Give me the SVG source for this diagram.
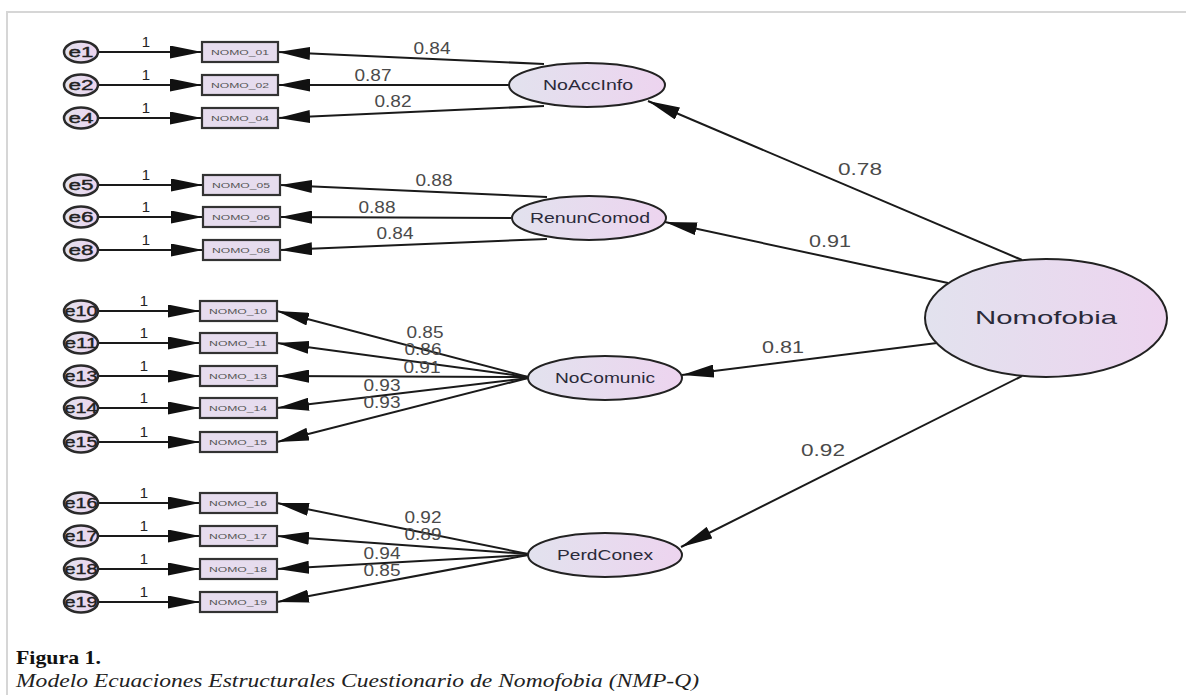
<svg xmlns="http://www.w3.org/2000/svg" width="1186" height="695" viewBox="0 0 1186 695">
<defs>
<linearGradient id="lg" x1="0" y1="0" x2="1" y2="0">
<stop offset="0" stop-color="#e2e2ee"/>
<stop offset="1" stop-color="#edd4ef"/>
</linearGradient>
<marker id="ah" viewBox="0 0 32 13" refX="32" refY="6.5" markerUnits="userSpaceOnUse" markerWidth="32" markerHeight="13" orient="auto">
<path d="M0,0 L32,6.5 L0,13 z" fill="#111"/>
</marker>
<style>
.frame{stroke:#d6d6d6;stroke-width:2;fill:none}
.err{fill:url(#lg);stroke:#2a2a2a;stroke-width:2.5}
.box{fill:#e6dcee;stroke:#333;stroke-width:2.2}
.lat{fill:url(#lg);stroke:#222;stroke-width:2}
.c line{stroke:#1a1a1a;stroke-width:2;marker-end:url(#ah)}
.et{font-family:"Liberation Sans",Arial,sans-serif;font-size:15px;fill:#222;stroke:#222;stroke-width:0.4;text-anchor:middle}
.bt{font-family:"Liberation Sans",Arial,sans-serif;font-size:8px;fill:#555;text-anchor:middle}
.one{font-family:"Liberation Sans",Arial,sans-serif;font-size:15px;fill:#222;text-anchor:middle}
.num{font-family:"Liberation Sans",Arial,sans-serif;font-size:16px;fill:#4a4a4a;text-anchor:middle}
.lt{font-family:"Liberation Sans",Arial,sans-serif;font-size:15px;fill:#2a2a3a;text-anchor:middle}
.cap1{font-family:"Liberation Serif","Times New Roman",serif;font-size:19px;font-weight:bold;fill:#111}
.cap2{font-family:"Liberation Serif","Times New Roman",serif;font-size:19px;font-style:italic;fill:#222}
</style>
</defs>
<rect width="1186" height="695" fill="#fff"/>
<path class="frame" d="M7,695 L7,12 L1186,12"/>

<g id="connectors" class="c">
<line x1="98" y1="52" x2="202" y2="52"/>
<line x1="98" y1="85" x2="202" y2="85"/>
<line x1="98" y1="118" x2="202" y2="118"/>
<line x1="98" y1="185" x2="203" y2="185"/>
<line x1="98" y1="217" x2="203" y2="217"/>
<line x1="98" y1="250" x2="203" y2="250"/>
<line x1="98" y1="311" x2="200" y2="311"/>
<line x1="98" y1="343" x2="200" y2="343"/>
<line x1="98" y1="376" x2="200" y2="376"/>
<line x1="98" y1="408" x2="200" y2="408"/>
<line x1="98" y1="442" x2="200" y2="442"/>
<line x1="98" y1="503" x2="200" y2="503"/>
<line x1="98" y1="536" x2="200" y2="536"/>
<line x1="98" y1="569" x2="200" y2="569"/>
<line x1="98" y1="602" x2="200" y2="602"/>
<line x1="544" y1="64" x2="278" y2="52"/>
<line x1="509" y1="85" x2="278" y2="85"/>
<line x1="544" y1="106" x2="278" y2="118"/>
<line x1="547" y1="197" x2="280" y2="185"/>
<line x1="511" y1="218" x2="280" y2="217"/>
<line x1="547" y1="239" x2="280" y2="250"/>
<line x1="528" y1="377" x2="277" y2="311"/>
<line x1="528" y1="377" x2="277" y2="343"/>
<line x1="528" y1="377" x2="277" y2="376"/>
<line x1="528" y1="378" x2="277" y2="408"/>
<line x1="528" y1="378" x2="277" y2="442"/>
<line x1="528" y1="554" x2="277" y2="503"/>
<line x1="528" y1="554" x2="277" y2="536"/>
<line x1="528" y1="555" x2="277" y2="569"/>
<line x1="528" y1="555" x2="277" y2="602"/>
<line x1="1022" y1="260" x2="648" y2="101"/>
<line x1="948" y1="283" x2="665" y2="222"/>
<line x1="937" y1="343" x2="682" y2="375"/>
<line x1="1022" y1="376" x2="681" y2="547"/>
</g>

<g id="labels">
<text class="one" x="146" y="47">1</text>
<text class="one" x="146" y="80">1</text>
<text class="one" x="146" y="113">1</text>
<text class="one" x="146" y="180">1</text>
<text class="one" x="146" y="212">1</text>
<text class="one" x="146" y="245">1</text>
<text class="one" x="144" y="306">1</text>
<text class="one" x="144" y="338">1</text>
<text class="one" x="144" y="371">1</text>
<text class="one" x="144" y="403">1</text>
<text class="one" x="144" y="437">1</text>
<text class="one" x="144" y="498">1</text>
<text class="one" x="144" y="531">1</text>
<text class="one" x="144" y="564">1</text>
<text class="one" x="144" y="597">1</text>
<text class="num" x="432" y="54" textLength="37" lengthAdjust="spacingAndGlyphs">0.84</text>
<text class="num" x="373" y="81" textLength="37" lengthAdjust="spacingAndGlyphs">0.87</text>
<text class="num" x="393" y="107" textLength="37" lengthAdjust="spacingAndGlyphs">0.82</text>
<text class="num" x="434" y="186" textLength="37" lengthAdjust="spacingAndGlyphs">0.88</text>
<text class="num" x="377" y="213" textLength="37" lengthAdjust="spacingAndGlyphs">0.88</text>
<text class="num" x="395" y="239" textLength="37" lengthAdjust="spacingAndGlyphs">0.84</text>
<text class="num" x="425" y="338" textLength="37" lengthAdjust="spacingAndGlyphs">0.85</text>
<text class="num" x="423" y="355" textLength="37" lengthAdjust="spacingAndGlyphs">0.86</text>
<text class="num" x="422" y="373" textLength="37" lengthAdjust="spacingAndGlyphs">0.91</text>
<text class="num" x="382" y="391" textLength="37" lengthAdjust="spacingAndGlyphs">0.93</text>
<text class="num" x="382" y="408" textLength="37" lengthAdjust="spacingAndGlyphs">0.93</text>
<text class="num" x="423" y="523" textLength="37" lengthAdjust="spacingAndGlyphs">0.92</text>
<text class="num" x="423" y="540" textLength="37" lengthAdjust="spacingAndGlyphs">0.89</text>
<text class="num" x="382" y="559" textLength="37" lengthAdjust="spacingAndGlyphs">0.94</text>
<text class="num" x="382" y="576" textLength="37" lengthAdjust="spacingAndGlyphs">0.85</text>
<text class="num" x="860" y="175" textLength="44" lengthAdjust="spacingAndGlyphs">0.78</text>
<text class="num" x="830" y="247" textLength="42" lengthAdjust="spacingAndGlyphs">0.91</text>
<text class="num" x="783" y="353" textLength="42" lengthAdjust="spacingAndGlyphs">0.81</text>
<text class="num" x="823" y="456" textLength="44" lengthAdjust="spacingAndGlyphs">0.92</text>
</g>

<g id="e1"><ellipse class="err" cx="81" cy="52" rx="17" ry="10.5"/><text class="et" x="81" y="57" textLength="25" lengthAdjust="spacingAndGlyphs">e1</text></g>
<g id="e2"><ellipse class="err" cx="81" cy="85" rx="17" ry="10.5"/><text class="et" x="81" y="90" textLength="25" lengthAdjust="spacingAndGlyphs">e2</text></g>
<g id="e4"><ellipse class="err" cx="81" cy="118" rx="17" ry="10.5"/><text class="et" x="81" y="123" textLength="25" lengthAdjust="spacingAndGlyphs">e4</text></g>
<g id="e5"><ellipse class="err" cx="81" cy="185" rx="17" ry="10.5"/><text class="et" x="81" y="190" textLength="25" lengthAdjust="spacingAndGlyphs">e5</text></g>
<g id="e6"><ellipse class="err" cx="81" cy="217" rx="17" ry="10.5"/><text class="et" x="81" y="222" textLength="25" lengthAdjust="spacingAndGlyphs">e6</text></g>
<g id="e8"><ellipse class="err" cx="81" cy="250" rx="17" ry="10.5"/><text class="et" x="81" y="255" textLength="25" lengthAdjust="spacingAndGlyphs">e8</text></g>
<g id="e10"><ellipse class="err" cx="81" cy="311" rx="17" ry="10.5"/><text class="et" x="81" y="316" textLength="33" lengthAdjust="spacingAndGlyphs">e10</text></g>
<g id="e11"><ellipse class="err" cx="81" cy="343" rx="17" ry="10.5"/><text class="et" x="81" y="348" textLength="33" lengthAdjust="spacingAndGlyphs">e11</text></g>
<g id="e13"><ellipse class="err" cx="81" cy="376" rx="17" ry="10.5"/><text class="et" x="81" y="381" textLength="33" lengthAdjust="spacingAndGlyphs">e13</text></g>
<g id="e14"><ellipse class="err" cx="81" cy="408" rx="17" ry="10.5"/><text class="et" x="81" y="413" textLength="33" lengthAdjust="spacingAndGlyphs">e14</text></g>
<g id="e15"><ellipse class="err" cx="81" cy="442" rx="17" ry="10.5"/><text class="et" x="81" y="447" textLength="33" lengthAdjust="spacingAndGlyphs">e15</text></g>
<g id="e16"><ellipse class="err" cx="81" cy="503" rx="17" ry="10.5"/><text class="et" x="81" y="508" textLength="33" lengthAdjust="spacingAndGlyphs">e16</text></g>
<g id="e17"><ellipse class="err" cx="81" cy="536" rx="17" ry="10.5"/><text class="et" x="81" y="541" textLength="33" lengthAdjust="spacingAndGlyphs">e17</text></g>
<g id="e18"><ellipse class="err" cx="81" cy="569" rx="17" ry="10.5"/><text class="et" x="81" y="574" textLength="33" lengthAdjust="spacingAndGlyphs">e18</text></g>
<g id="e19"><ellipse class="err" cx="81" cy="602" rx="17" ry="10.5"/><text class="et" x="81" y="607" textLength="33" lengthAdjust="spacingAndGlyphs">e19</text></g>

<g id="NOMO_01"><rect class="box" x="202" y="42" width="76" height="20"/><text class="bt" x="240" y="55" textLength="58" lengthAdjust="spacingAndGlyphs">NOMO_01</text></g>
<g id="NOMO_02"><rect class="box" x="202" y="75" width="76" height="20"/><text class="bt" x="240" y="88" textLength="58" lengthAdjust="spacingAndGlyphs">NOMO_02</text></g>
<g id="NOMO_04"><rect class="box" x="202" y="108" width="76" height="20"/><text class="bt" x="240" y="121" textLength="58" lengthAdjust="spacingAndGlyphs">NOMO_04</text></g>
<g id="NOMO_05"><rect class="box" x="203" y="175" width="77" height="20"/><text class="bt" x="241" y="188" textLength="58" lengthAdjust="spacingAndGlyphs">NOMO_05</text></g>
<g id="NOMO_06"><rect class="box" x="203" y="207" width="77" height="20"/><text class="bt" x="241" y="220" textLength="58" lengthAdjust="spacingAndGlyphs">NOMO_06</text></g>
<g id="NOMO_08"><rect class="box" x="203" y="240" width="77" height="20"/><text class="bt" x="241" y="253" textLength="58" lengthAdjust="spacingAndGlyphs">NOMO_08</text></g>
<g id="NOMO_10"><rect class="box" x="200" y="301" width="77" height="20"/><text class="bt" x="238" y="314" textLength="58" lengthAdjust="spacingAndGlyphs">NOMO_10</text></g>
<g id="NOMO_11"><rect class="box" x="200" y="333" width="77" height="20"/><text class="bt" x="238" y="346" textLength="58" lengthAdjust="spacingAndGlyphs">NOMO_11</text></g>
<g id="NOMO_13"><rect class="box" x="200" y="366" width="77" height="20"/><text class="bt" x="238" y="379" textLength="58" lengthAdjust="spacingAndGlyphs">NOMO_13</text></g>
<g id="NOMO_14"><rect class="box" x="200" y="398" width="77" height="20"/><text class="bt" x="238" y="411" textLength="58" lengthAdjust="spacingAndGlyphs">NOMO_14</text></g>
<g id="NOMO_15"><rect class="box" x="200" y="432" width="77" height="20"/><text class="bt" x="238" y="445" textLength="58" lengthAdjust="spacingAndGlyphs">NOMO_15</text></g>
<g id="NOMO_16"><rect class="box" x="200" y="493" width="77" height="20"/><text class="bt" x="238" y="506" textLength="58" lengthAdjust="spacingAndGlyphs">NOMO_16</text></g>
<g id="NOMO_17"><rect class="box" x="200" y="526" width="77" height="20"/><text class="bt" x="238" y="539" textLength="58" lengthAdjust="spacingAndGlyphs">NOMO_17</text></g>
<g id="NOMO_18"><rect class="box" x="200" y="559" width="77" height="20"/><text class="bt" x="238" y="572" textLength="58" lengthAdjust="spacingAndGlyphs">NOMO_18</text></g>
<g id="NOMO_19"><rect class="box" x="200" y="592" width="77" height="20"/><text class="bt" x="238" y="605" textLength="58" lengthAdjust="spacingAndGlyphs">NOMO_19</text></g>

<g id="NoAccInfo"><ellipse class="lat" cx="587" cy="85" rx="78" ry="22"/><text class="lt" x="588" y="90" textLength="90" lengthAdjust="spacingAndGlyphs">NoAccInfo</text></g>
<g id="RenunComod"><ellipse class="lat" cx="589" cy="218" rx="77" ry="22"/><text class="lt" x="590" y="223" textLength="120" lengthAdjust="spacingAndGlyphs">RenunComod</text></g>
<g id="NoComunic"><ellipse class="lat" cx="605" cy="378" rx="77" ry="22"/><text class="lt" x="605" y="383" textLength="100" lengthAdjust="spacingAndGlyphs">NoComunic</text></g>
<g id="PerdConex"><ellipse class="lat" cx="605" cy="555" rx="77" ry="22"/><text class="lt" x="605" y="560" textLength="96" lengthAdjust="spacingAndGlyphs">PerdConex</text></g>
<g id="Nomofobia"><ellipse class="lat" cx="1046" cy="318" rx="121" ry="59"/><text class="lt" x="1046" y="324" style="font-size:19px" textLength="142" lengthAdjust="spacingAndGlyphs">Nomofobia</text></g>

<g id="caption">
<text class="cap1" x="16" y="664" textLength="85" lengthAdjust="spacingAndGlyphs">Figura 1.</text>
<text class="cap2" x="16" y="687" textLength="683" lengthAdjust="spacingAndGlyphs">Modelo Ecuaciones Estructurales Cuestionario de Nomofobia (NMP-Q)</text>
</g>
</svg>
